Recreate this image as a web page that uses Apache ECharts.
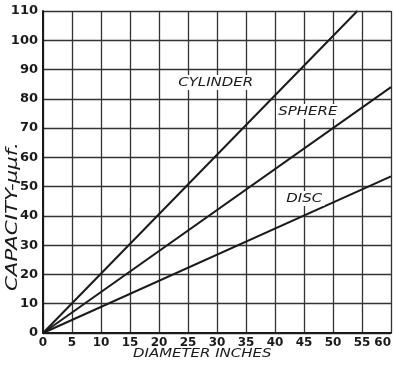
<!DOCTYPE html>
<html>
<head>
<meta charset="utf-8">
<script src="https://cdn.jsdelivr.net/npm/echarts@6/dist/echarts.min.js"></script>
<style>
  html, body { margin: 0; padding: 0; background: #fff; }
  #chart { width: 394px; height: 369px; }
</style>
</head>
<body>
<div id="chart"></div>
<script>
// values
var cylinder = [[0, 0], [54.2, 110]];
var sphere = [[0, 0], [60, 84]];
var disc = [[0, 0], [60, 53.5]];
var curveNames = ['CYLINDER', 'SPHERE', 'DISC'];

var ink = '#1a1a1a';
var font = '"DejaVu Sans", sans-serif';

function lineSeries(name, pts) {
    return {
        name: name,
        type: 'line',
        data: pts,
        symbol: 'none',
        silent: true,
        lineStyle: { color: ink, width: 2 }
    };
}

// hand lettering on the plate is wide, so stretch the text sideways
function tag(text, x, y) {
    return {
        type: 'text',
        x: x,
        y: y,
        scaleX: 1.15,
        z: 10,
        style: {
            text: text,
            fill: ink,
            font: 'italic 13px ' + font,
            backgroundColor: '#fff',
            padding: [1, 2]
        }
    };
}

var chart = echarts.init(document.getElementById('chart'));
chart.setOption({
    animation: false,
    backgroundColor: '#fff',
    grid: { left: 43, right: 3, top: 11, bottom: 36, outerBoundsMode: 'none' },
    xAxis: {
        type: 'value', min: 0, max: 60, interval: 5,
        axisLine: { lineStyle: { color: ink, width: 2 } },
        axisTick: { show: false },
        splitLine: { lineStyle: { color: '#333', width: 1.3 } },
        axisLabel: {
            color: ink, fontFamily: font, fontWeight: 'bold', fontSize: 12, margin: 4,
            alignMaxLabel: 'right'
        }
    },
    yAxis: {
        type: 'value', min: 0, max: 110, interval: 10,
        axisLine: { show: true, lineStyle: { color: ink, width: 2 } },
        axisTick: { show: false },
        splitLine: { lineStyle: { color: '#333', width: 1.3 } },
        axisLabel: { color: ink, fontFamily: font, fontWeight: 'bold', fontSize: 13, margin: 5 }
    },
    graphic: [
        tag(curveNames[0], 176, 75),
        tag(curveNames[1], 276, 104),
        tag(curveNames[2], 284, 191),
        {
            type: 'text', x: 133, y: 347, scaleX: 1.15,
            style: { text: 'DIAMETER INCHES', fill: ink, font: 'italic 13px ' + font }
        },
        {
            type: 'text', x: 6, y: 291, rotation: Math.PI / 2, scaleX: 1.42,
            style: { text: 'CAPACITY-\u03bc\u03bcf.', fill: ink, font: 'italic 15px ' + font }
        }
    ],
    series: [
        lineSeries(curveNames[0], cylinder),
        lineSeries(curveNames[1], sphere),
        lineSeries(curveNames[2], disc)
    ]
});
</script>
</body>
</html>
